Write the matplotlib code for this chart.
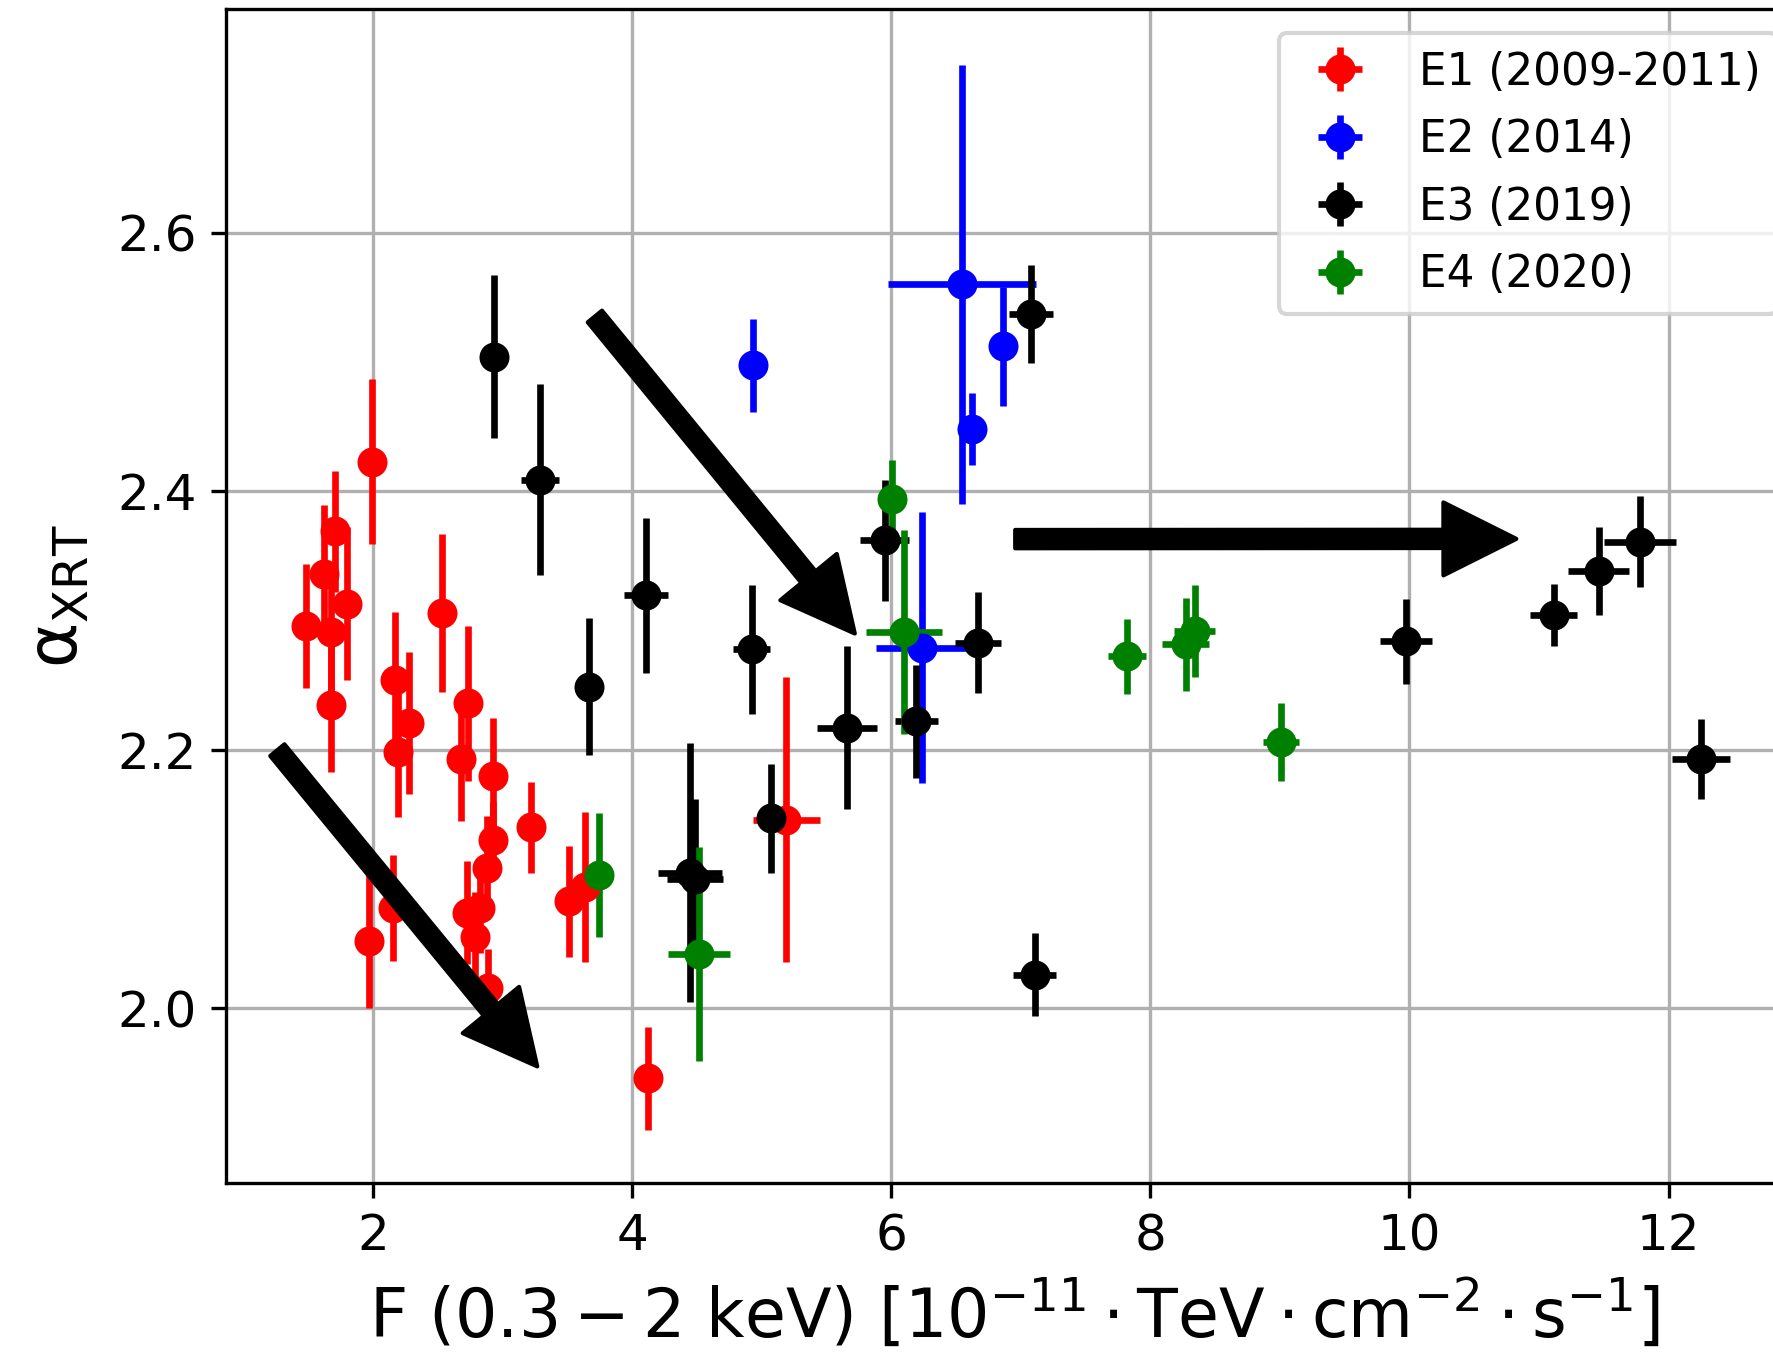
import matplotlib
matplotlib.use("Agg")
import matplotlib.pyplot as plt
from matplotlib.patches import FancyArrowPatch

# E1 (2009-2011)
e1_flux = [1.99, 1.707, 1.624, 1.797, 1.48, 1.676, 1.676, 2.53, 2.17, 2.278,
           2.196, 2.735, 2.677, 2.93, 3.217, 2.924, 2.877, 2.723, 2.826, 2.787,
           2.89, 1.969, 2.157, 3.51, 3.636, 4.125, 5.19]
e1_alpha = [2.423, 2.369, 2.336, 2.313, 2.296, 2.291, 2.235, 2.306, 2.254, 2.221,
            2.198, 2.236, 2.193, 2.180, 2.140, 2.130, 2.109, 2.074, 2.078, 2.055,
            2.016, 2.052, 2.078, 2.083, 2.094, 1.946, 2.146]
e1_alpha_err = [0.064, 0.047, 0.053, 0.059, 0.048, 0.050, 0.052, 0.061, 0.053, 0.055,
                0.050, 0.060, 0.048, 0.045, 0.035, 0.030, 0.040, 0.040, 0.035, 0.035,
                0.030, 0.052, 0.041, 0.043, 0.058, 0.040, 0.110]
e1_flux_err = [0.0] * 26 + [0.257]

# E2 (2014)
e2_flux = [4.934, 6.547, 6.864, 6.62, 6.24]
e2_alpha = [2.4975, 2.560, 2.512, 2.448, 2.279]
e2_alpha_err = [0.036, 0.170, 0.046, 0.028, 0.105]
e2_flux_err = [0.03, 0.574, 0.04, 0.03, 0.36]

# E3 (2019)
e3_flux = [2.934, 3.289, 3.667, 4.107, 4.446, 4.484, 4.922, 5.076, 5.66, 5.95,
           6.195, 6.67, 7.082, 7.108, 9.976, 11.113, 11.46, 11.776, 12.252]
e3_alpha = [2.504, 2.409, 2.249, 2.3195, 2.105, 2.100, 2.2777, 2.147, 2.217, 2.362,
            2.222, 2.283, 2.537, 2.026, 2.284, 2.304, 2.338, 2.361, 2.193]
e3_alpha_err = [0.063, 0.074, 0.053, 0.060, 0.100, 0.062, 0.050, 0.042, 0.063, 0.047,
                0.044, 0.039, 0.038, 0.032, 0.033, 0.024, 0.034, 0.035, 0.031]
e3_flux_err = [0.03, 0.144, 0.03, 0.171, 0.245, 0.218, 0.145, 0.10, 0.233, 0.19,
               0.167, 0.177, 0.17, 0.167, 0.20, 0.18, 0.238, 0.278, 0.225]

# E4 (2020)
e4_flux = [3.744, 4.515, 6.01, 6.097, 7.82, 8.273, 8.343, 9.006]
e4_alpha = [2.103, 2.042, 2.394, 2.291, 2.2723, 2.2816, 2.2919, 2.206]
e4_alpha_err = [0.048, 0.083, 0.030, 0.079, 0.029, 0.036, 0.0355, 0.030]
e4_flux_err = [0.03, 0.24, 0.03, 0.293, 0.15, 0.18, 0.16, 0.139]

series = [
    ("E1 (2009-2011)", "red", e1_flux, e1_alpha, e1_flux_err, e1_alpha_err),
    ("E2 (2014)", "blue", e2_flux, e2_alpha, e2_flux_err, e2_alpha_err),
    ("E3 (2019)", "black", e3_flux, e3_alpha, e3_flux_err, e3_alpha_err),
    ("E4 (2020)", "green", e4_flux, e4_alpha, e4_flux_err, e4_alpha_err),
]

# trend arrows: (start, tip) in data coordinates
arrows = [
    ((1.262, 2.1998), (3.268, 1.9552)),
    ((3.713, 2.5352), (5.719, 2.2900)),
    ((6.957, 2.3630), (10.825, 2.3632)),
]

fig = plt.figure(figsize=(1773 / 300, 1355 / 300), dpi=300)
ax = fig.add_axes([226 / 1773, 172 / 1355, (1802 - 226) / 1773, (1183 - 9) / 1355])

for label, color, x, y, xe, ye in series:
    ax.errorbar(x, y, xerr=xe, yerr=ye, fmt="o", color=color, ms=7.2, mew=0,
                elinewidth=1.6, capsize=2, capthick=1.6, label=label)

for (x0, y0), (x1, y1) in arrows:
    arr = FancyArrowPatch((x0, y0), (x1, y1), shrinkA=0, shrinkB=0,
                          arrowstyle="simple,head_length=1.75,head_width=1.75,tail_width=0.44",
                          mutation_scale=10, color="black", zorder=5)
    ax.add_patch(arr)

ax.set_xlim(0.8657, 13.03)
ax.set_ylim(1.865, 2.773)
ax.set_xticks([2, 4, 6, 8, 10, 12])
ax.set_yticks([2.0, 2.2, 2.4, 2.6])
ax.tick_params(labelsize=12)
ax.grid(True)
ax.set_axisbelow(True)

ax.set_xlabel(r"F $(0.3-2$ keV) $[10^{-11}\cdot\mathrm{TeV}\cdot\mathrm{cm}^{-2}\cdot\mathrm{s}^{-1}]$",
              fontsize=16)
ax.set_ylabel(r"$\mathrm{\alpha}_{\mathrm{XRT}}$", fontsize=16.5, labelpad=6.5)

ax.legend(loc="upper right", fontsize=10.5, labelspacing=0.56, borderaxespad=0.55)

fig.savefig("out.png", dpi=300)
